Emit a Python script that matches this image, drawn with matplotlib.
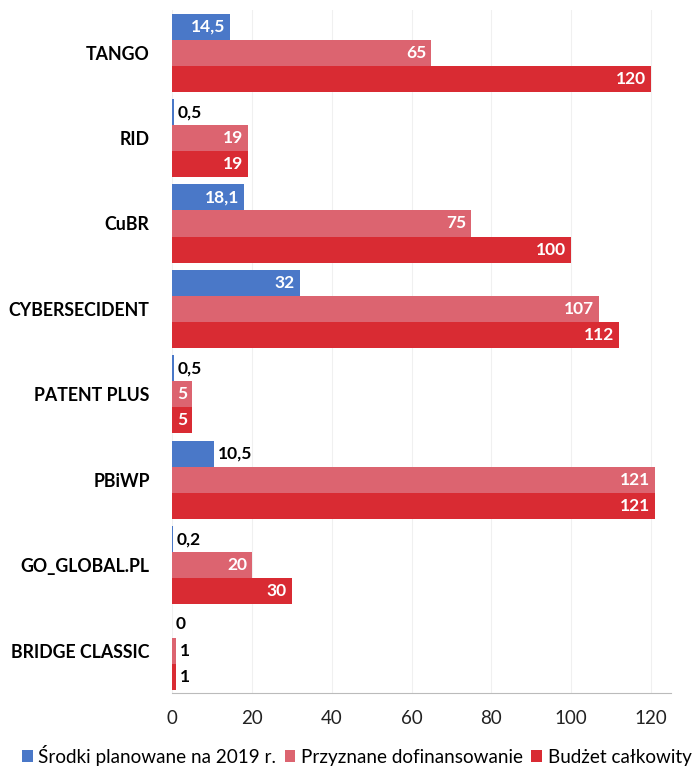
import numpy as np
import matplotlib.pyplot as plt

plt.rcParams['font.family'] = ['Lato', 'DejaVu Sans']

programy = ['TANGO', 'RID', 'CuBR', 'CYBERSECIDENT', 'PATENT PLUS', 'PBiWP',
            'GO_GLOBAL.PL', 'BRIDGE CLASSIC']
srodki_2019 = [14.5, 0.5, 18.1, 32, 0.5, 10.5, 0.2, 0]
dofinansowanie = [65, 19, 75, 107, 5, 121, 20, 1]
budzet = [120, 19, 100, 112, 5, 121, 30, 1]

serie = [
    ('Środki planowane na 2019 r.', srodki_2019, '#4a78c8'),
    ('Przyznane dofinansowanie', dofinansowanie, '#dc6470'),
    ('Budżet całkowity', budzet, '#d92b33'),
]

fig = plt.figure(figsize=(6.99, 7.66), dpi=100)
ax = fig.add_axes([0.246, 0.095, 0.714, 0.892])

y = np.arange(len(programy))
h = 0.305
for i, (nazwa, vals, kolor) in enumerate(serie):
    pos = y + (i - 1) * h
    bars = ax.barh(pos, vals, height=h, color=kolor, label=nazwa)
    for b, v in zip(bars, vals):
        txt = ('%g' % v).replace('.', ',')
        yc = b.get_y() + b.get_height() / 2
        if v >= len(txt) * 2.6 + 1:
            ax.text(v - 1.2, yc, txt, ha='right', va='center', color='white',
                    fontsize=12.5, fontweight='bold')
        else:
            ax.text(v + 1.0, yc, txt, ha='left', va='center', color='black',
                    fontsize=12.5, fontweight='bold')

ax.set_ylim(len(programy) - 0.5, -0.5)
ax.set_xlim(0, 125)
ax.set_yticks(y)
ax.set_yticklabels(programy, fontsize=12.8, fontweight='bold')
ax.set_xticks(np.arange(0, 121, 20))
ax.tick_params(axis='x', labelsize=13.5, length=0, pad=12, colors='#222222')
ax.tick_params(axis='y', length=0, pad=16)
for s in ['top', 'right', 'left']:
    ax.spines[s].set_visible(False)
ax.spines['bottom'].set_color('#bbbbbb')
ax.grid(axis='x', color='#f0f0f0', lw=0.8)
ax.set_axisbelow(True)

fig.legend(loc='center left', bbox_to_anchor=(0.032, 0.014), ncol=3, frameon=False,
           fontsize=13.6, handlelength=0.55, handleheight=0.55, handletextpad=0.3,
           columnspacing=0.45, borderaxespad=0, borderpad=0)

fig.savefig('out.png', dpi=100)
